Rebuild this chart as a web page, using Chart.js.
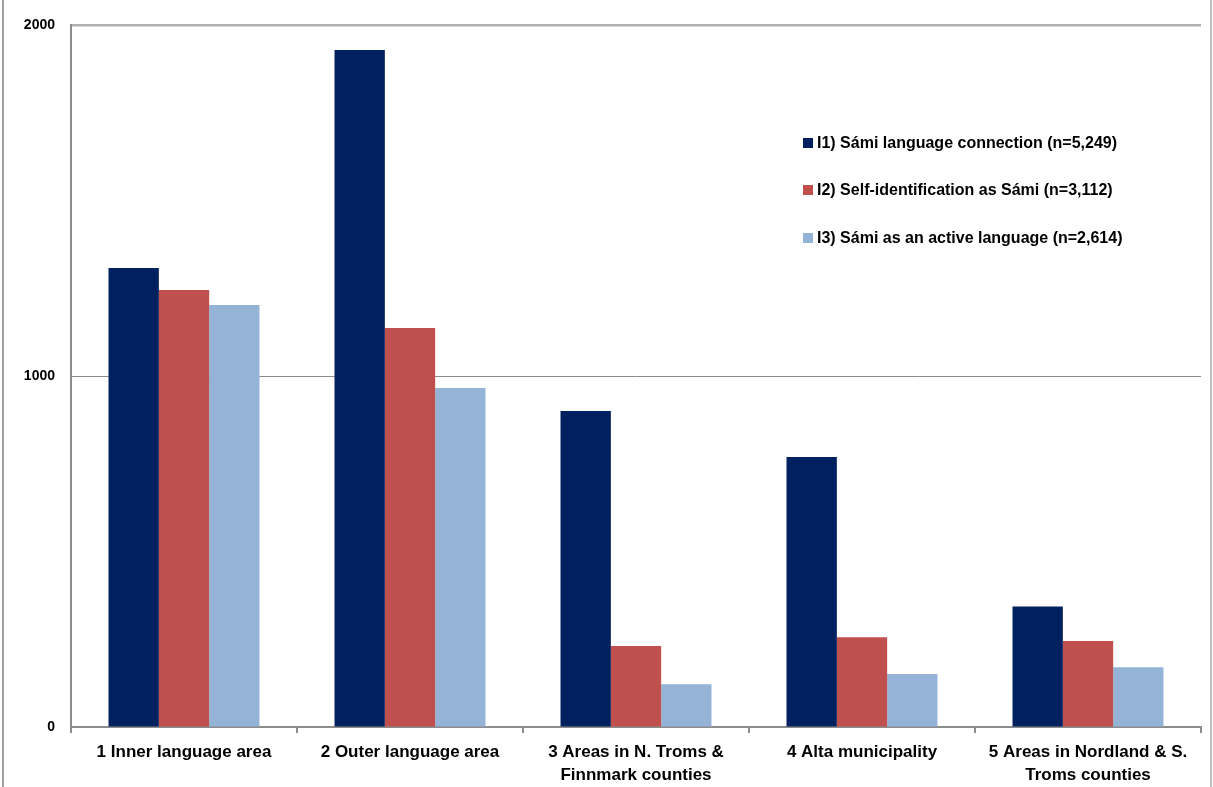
<!DOCTYPE html>
<html><head><meta charset="utf-8">
<script src="https://cdn.jsdelivr.net/npm/chart.js@4/dist/chart.umd.min.js"></script>
<style>html,body{margin:0;padding:0;background:#fff;overflow:hidden}#wrap{width:1213px;height:787px;position:relative}</style>
</head><body><div id="wrap"><canvas id="c" width="1213" height="787"></canvas></div>
<script>
const categories = [
  ["1 Inner language area"],
  ["2 Outer language area"],
  ["3 Areas in N. Troms &", "Finnmark counties"],
  ["4 Alta municipality"],
  ["5 Areas in Nordland & S.", "Troms counties"]
];
const seriesNames = [
  "I1) Sámi language connection (n=5,249)",
  "I2) Self-identification as Sámi (n=3,112)",
  "I3) Sámi as an active language (n=2,614)"
];
const i1Values = [1308, 1929, 900, 769, 343];
const i2Values = [1245, 1137, 231, 256, 245];
const i3Values = [1202, 966, 122, 151, 170];
const yTicks = [0, 1000, 2000];
const colors = ["#00205F", "#C0504D", "#95B3D7"];
const labelFont = "'Liberation Sans', Arial, sans-serif";

const framePlugin = {
  id: 'frame',
  afterDraw(chart) {
    const ctx = chart.ctx;
    ctx.save();
    ctx.fillStyle = '#a0a0a0';
    ctx.fillRect(2, 0, 2, 787);
    ctx.fillStyle = '#bdbdbd';
    ctx.fillRect(1210, 0, 2, 787);
    const ys = [143, 190, 238];
    ctx.font = "bold 16px " + labelFont;
    ctx.textBaseline = 'middle';
    chart.data.datasets.forEach((ds, i) => {
      ctx.fillStyle = ds.backgroundColor;
      ctx.fillRect(803, ys[i] - 5, 10, 10);
      ctx.fillStyle = '#000';
      ctx.fillText(ds.label, 817, ys[i] + 1);
    });
    ctx.restore();
  }
};

new Chart(document.getElementById('c'), {
  type: 'bar',
  data: {
    labels: categories,
    datasets: [
      { label: seriesNames[0], data: i1Values, backgroundColor: colors[0] },
      { label: seriesNames[1], data: i2Values, backgroundColor: colors[1] },
      { label: seriesNames[2], data: i3Values, backgroundColor: colors[2] }
    ]
  },
  options: {
    responsive: false,
    animation: false,
    devicePixelRatio: 1,
    layout: { padding: { top: 25, right: 12, left: 0, bottom: 0 } },
    datasets: { bar: { categoryPercentage: 0.668, barPercentage: 1.0, borderWidth: 0 } },
    plugins: { legend: { display: false }, tooltip: { enabled: false } },
    scales: {
      x: {
        grid: { drawOnChartArea: false, drawTicks: true, tickLength: 6, color: '#8c8c8c', lineWidth: 2, offset: true },
        border: { color: '#8c8c8c', width: 2 },
        ticks: { color: '#000', font: { family: labelFont, size: 17, weight: 'bold', lineHeight: 1.35 }, padding: 8, maxRotation: 0, autoSkip: false },
        afterFit(s) { s.height = 60; }
      },
      y: {
        min: 0, max: 2000,
        afterBuildTicks(s) { s.ticks = yTicks.map(v => ({ value: v })); },
        grid: {
          drawTicks: false,
          color: (c) => c.tick && c.tick.value === 2000 ? '#b0b0b0' : '#8c8c8c',
          lineWidth: (c) => c.tick && c.tick.value === 2000 ? 2.5 : 1
        },
        border: { color: '#8c8c8c', width: 2 },
        ticks: { color: '#000', font: { family: labelFont, size: 14, weight: 'bold' }, padding: 16, callback: (v) => String(v) },
        afterFit(s) { s.width = 71; }
      }
    }
  },
  plugins: [framePlugin]
});
</script>
</body></html>
